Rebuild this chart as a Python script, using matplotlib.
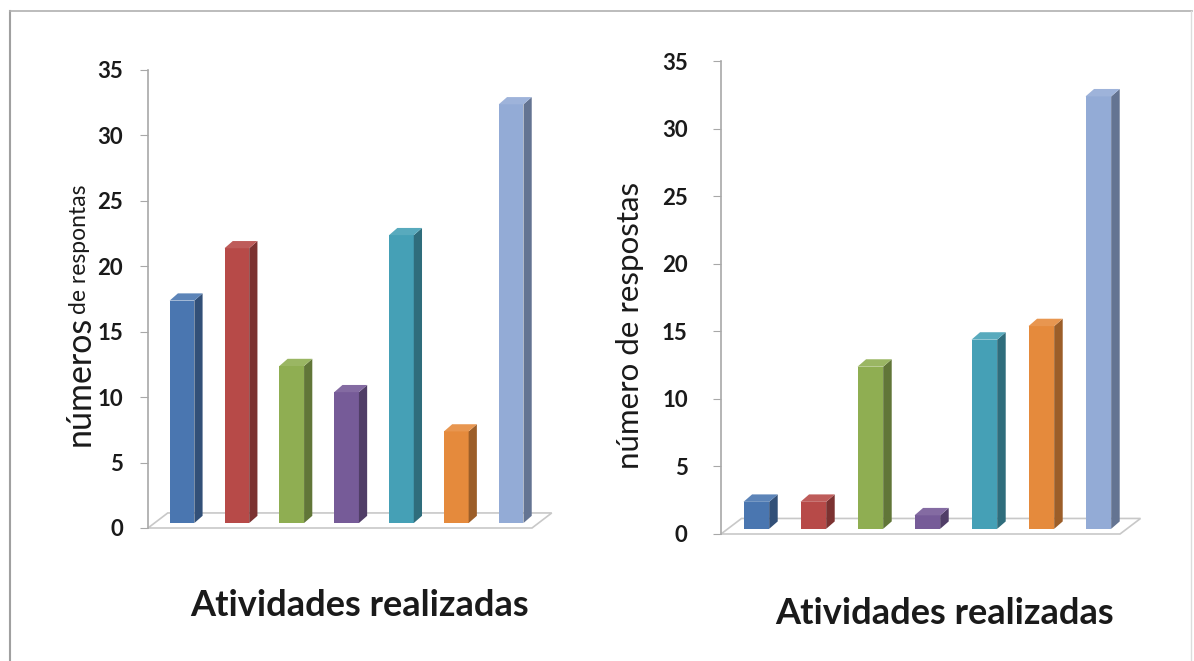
import matplotlib
matplotlib.use("Agg")
import matplotlib.pyplot as plt
from matplotlib.patches import Polygon
from matplotlib.lines import Line2D
import matplotlib.colors as mcolors

plt.rcParams['font.family'] = ['Lato', 'DejaVu Sans']

# data
categorias = ['A1', 'A2', 'A3', 'A4', 'A5', 'A6', 'A7']
respostas_esq = [17, 21, 12, 10, 22, 7, 32]
respostas_dir = [2, 2, 12, 1, 14, 15, 32]
cores = ['#4a76b0', '#b74a48', '#8fae52', '#765b98', '#45a0b6', '#e58a3c', '#93abd6']
yticks = [0, 5, 10, 15, 20, 25, 30, 35]
xlabel = 'Atividades realizadas'


def shade(c, f):
    r, g, b = mcolors.to_rgb(c)
    return (r * f, g * f, b * f)


def tint(c, f):
    r, g, b = mcolors.to_rgb(c)
    return (r + (1 - r) * f, g + (1 - g) * f, b + (1 - b) * f)


def bars3d(ax, valores):
    n = len(valores)
    # floor
    fdx, fdy = 0.36, 1.15
    floor = Polygon([(-0.5, 0), (n - 0.5, 0), (n - 0.5 + fdx, fdy), (-0.5 + fdx, fdy)],
                    closed=True, facecolor='white', edgecolor='#c8c8c8', lw=1.2,
                    clip_on=False, zorder=1)
    ax.add_patch(floor)
    w, off, by = 0.45, 0.12, 0.38
    ddx, ddy = 0.15, 0.55
    for i, v in enumerate(valores):
        c = cores[i]
        x0 = i + off - w / 2
        ax.bar(x0, v, width=w, bottom=by, align='edge', color=c, zorder=3, clip_on=False)
        side = Polygon([(x0 + w, by), (x0 + w + ddx, by + ddy),
                        (x0 + w + ddx, by + v + ddy), (x0 + w, by + v)],
                       closed=True, facecolor=shade(c, 0.68), edgecolor='none',
                       zorder=3, clip_on=False)
        top = Polygon([(x0, by + v), (x0 + w, by + v), (x0 + w + ddx, by + v + ddy),
                       (x0 + ddx, by + v + ddy)],
                      closed=True, facecolor=tint(c, 0.1), edgecolor='none',
                      zorder=3, clip_on=False)
        ax.add_patch(side)
        ax.add_patch(top)
    ax.set_xlim(-0.5, n - 0.5)
    ax.set_ylim(0, 35)
    ax.set_yticks(yticks)
    ax.set_xticks([])
    for s in ['top', 'right', 'bottom']:
        ax.spines[s].set_visible(False)
    ax.spines['left'].set_color('#a8a8a8')
    ax.spines['left'].set_linewidth(1.2)
    ax.tick_params(axis='y', direction='out', length=6, color='#a8a8a8', labelsize=16)
    for t in ax.get_yticklabels():
        t.set_fontweight('bold')
        t.set_color('#1a1a1a')
    ax.patch.set_alpha(0)


W, H = 1194, 661
fig = plt.figure(figsize=(W / 100, H / 100), dpi=100)

ax1 = fig.add_axes([148 / W, (H - 528) / H, 384 / W, (528 - 70) / H])
bars3d(ax1, respostas_esq)
ax1.tick_params(axis='y', pad=12)

ax2 = fig.add_axes([721 / W, (H - 534) / H, 399 / W, (534 - 61) / H])
bars3d(ax2, respostas_dir)
ax2.tick_params(axis='y', pad=18)

# y labels
t1 = fig.text(80 / W, (H - 446) / H, 'números', rotation=90, fontsize=24.5,
              ha='center', va='bottom', color='#1a1a1a')
fig.canvas.draw()
bb = t1.get_window_extent()
fig.text(80 / W, (bb.y1 + 2) / H, 'de respontas', rotation=90, fontsize=16.5,
         ha='center', va='bottom', color='#1a1a1a')

fig.text(630 / W, (H - 325) / H, 'número de respostas', rotation=90, fontsize=22.5,
         ha='center', va='center', color='#1a1a1a')

# x labels
fig.text(360 / W, (H - 606) / H, xlabel, fontsize=26, fontweight='bold',
         ha='center', va='center', color='#1a1a1a')
fig.text(945 / W, (H - 613) / H, xlabel, fontsize=26, fontweight='bold',
         ha='center', va='center', color='#1a1a1a')

# frame
fig.add_artist(Line2D([10 / W, 10 / W], [0, (H - 11) / H], color='#a0a0a0', lw=1.5))
fig.add_artist(Line2D([10 / W, 1192 / W], [(H - 11) / H, (H - 11) / H], color='#b0b0b0', lw=1.2))
fig.add_artist(Line2D([1191 / W, 1191 / W], [0, (H - 11) / H], color='#dcdcdc', lw=1))

fig.savefig('out.png', dpi=100)
